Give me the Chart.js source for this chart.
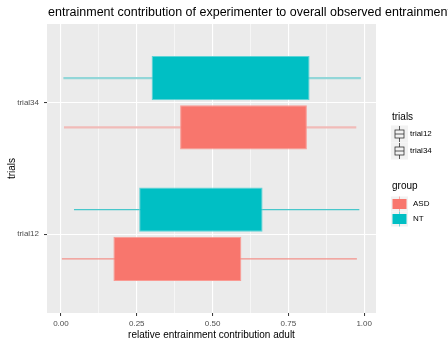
<!DOCTYPE html>
<html>
<head>
<meta charset="utf-8">
<script src="https://cdn.jsdelivr.net/npm/chart.js@4/dist/chart.umd.min.js"></script>
<style>
  html, body { margin: 0; padding: 0; background: #ffffff; }
  #wrap { position: relative; width: 448px; height: 342px; }
</style>
</head>
<body>
<div id="wrap"><canvas id="c" width="448" height="342"></canvas></div>
<script>
// Trials on the vertical axis (numeric positions used by the linear scale)
const trialLabels = ['trial12', 'trial34'];
const trialPositions = [1, 2];

// Five-number summaries per group, ordered as trialLabels
const ntMin    = [0.043, 0.008];
const ntQ1     = [0.258, 0.299];
const ntQ3     = [0.665, 0.820];
const ntMax    = [0.984, 0.989];

const asdMin   = [0.003, 0.010];
const asdQ1    = [0.173, 0.393];
const asdQ3    = [0.595, 0.811];
const asdMax   = [0.976, 0.974];

// x-axis ticks (major) and grid positions (major + minor)
const xMajorTicks = [0, 0.25, 0.5, 0.75, 1];
const xGridTicks  = [0, 0.125, 0.25, 0.375, 0.5, 0.625, 0.75, 0.875, 1];

const colNT  = '#00BFC4';
const colASD = '#F8766D';

const boxData = (lo, hi) => trialPositions.map((p, i) => ({ y: p, x: [lo[i], hi[i]] }));
const oneWhisker = (lo, hi, i) => [{ y: trialPositions[i], x: [lo[i], hi[i]] }];

const panelBg = {
  id: 'panelBg',
  beforeDraw(chart) {
    const { ctx, chartArea: a } = chart;
    ctx.save();
    ctx.fillStyle = '#ffffff';
    ctx.fillRect(0, 0, chart.width, chart.height);
    ctx.fillStyle = '#EBEBEB';
    ctx.fillRect(a.left, a.top, a.right - a.left, a.bottom - a.top);
    ctx.restore();
  }
};

const titleAndLegend = {
  id: 'titleAndLegend',
  afterDraw(chart) {
    const { ctx } = chart;
    ctx.save();
    ctx.textBaseline = 'middle';
    ctx.textAlign = 'left';
    // plot title
    ctx.fillStyle = '#000000';
    ctx.font = '12.5px "Liberation Sans", Arial, sans-serif';
    ctx.fillText('entrainment contribution of experimenter to overall observed entrainment', 48, 13);

    // legend: trials
    ctx.font = '10px "Liberation Sans", Arial, sans-serif';
    ctx.fillText('trials', 392, 117);
    const keyX = 391, keyW = 17;
    const trialRows = [134, 151];
    trialRows.forEach((cy, i) => {
      ctx.fillStyle = '#F2F2F2';
      ctx.fillRect(keyX, cy - 8.5, keyW, 17);
      ctx.strokeStyle = '#333333';
      ctx.lineWidth = 0.8;
      const cx = keyX + keyW / 2;
      ctx.beginPath();
      ctx.moveTo(cx, cy - 8); ctx.lineTo(cx, cy - 4);
      ctx.moveTo(cx, cy + 4); ctx.lineTo(cx, cy + 8);
      ctx.stroke();
      ctx.strokeRect(cx - 4.5, cy - 4, 9, 8);
      ctx.beginPath();
      ctx.moveTo(cx - 4.5, cy); ctx.lineTo(cx + 4.5, cy);
      ctx.stroke();
      ctx.fillStyle = '#000000';
      ctx.font = '8px "Liberation Sans", Arial, sans-serif';
      ctx.fillText(trialLabels[i], 410, cy);
    });

    // legend: group
    ctx.font = '10px "Liberation Sans", Arial, sans-serif';
    ctx.fillStyle = '#000000';
    ctx.fillText('group', 392, 186);
    const groups = [['ASD', colASD, 'rgba(248,118,109,0.55)'], ['NT', colNT, 'rgba(0,191,196,0.55)']];
    const groupRows = [204, 219];
    groups.forEach((g, i) => {
      const cy = groupRows[i];
      ctx.fillStyle = '#F2F2F2';
      ctx.fillRect(keyX, cy - 7.5, keyW, 15);
      const cx = keyX + keyW / 2;
      ctx.strokeStyle = g[2];
      ctx.lineWidth = 1;
      ctx.beginPath();
      ctx.moveTo(cx, cy - 7.5); ctx.lineTo(cx, cy + 7.5);
      ctx.stroke();
      ctx.fillStyle = g[1];
      ctx.fillRect(cx - 7, cy - 5, 14, 10);
      ctx.fillStyle = '#000000';
      ctx.font = '8px "Liberation Sans", Arial, sans-serif';
      ctx.fillText(g[0], 413, cy);
    });
    ctx.restore();
  }
};

new Chart(document.getElementById('c'), {
  type: 'bar',
  data: {
    datasets: [
      { label: 'NT', stack: 'NT', order: 0, data: boxData(ntQ1, ntQ3),
        backgroundColor: colNT, borderColor: '#5FD3D6', borderWidth: 1, borderSkipped: false },
      { label: 'ASD', stack: 'ASD', order: 0, data: boxData(asdQ1, asdQ3),
        backgroundColor: colASD, borderColor: '#FA9A93', borderWidth: 1, borderSkipped: false },
      // whiskers, drawn underneath the boxes
      { label: 'NT trial12', stack: 'NT', order: 1, data: oneWhisker(ntMin, ntMax, 0),
        backgroundColor: '#48C7CB', maxBarThickness: 1.3 },
      { label: 'NT trial34', stack: 'NT', order: 1, data: oneWhisker(ntMin, ntMax, 1),
        backgroundColor: '#92D6D8', maxBarThickness: 2.2 },
      { label: 'ASD trial12', stack: 'ASD', order: 1, data: oneWhisker(asdMin, asdMax, 0),
        backgroundColor: '#F3918A', maxBarThickness: 1.3 },
      { label: 'ASD trial34', stack: 'ASD', order: 1, data: oneWhisker(asdMin, asdMax, 1),
        backgroundColor: '#F1BBB8', maxBarThickness: 2.2 }
    ]
  },
  options: {
    indexAxis: 'y',
    responsive: false,
    animation: false,
    categoryPercentage: 0.75,
    barPercentage: 0.9,
    layout: { padding: { left: 0, right: 72, top: 24, bottom: 0 } },
    plugins: { legend: { display: false }, tooltip: { enabled: false }, title: { display: false } },
    scales: {
      y: {
        type: 'linear',
        min: 0.4, max: 2.6,
        offset: false,
        afterBuildTicks: (s) => { s.ticks = trialPositions.map(v => ({ value: v })); },
        afterFit: (s) => { s.width = 47; },
        ticks: {
          color: '#4D4D4D',
          font: { size: 8, family: '"Liberation Sans", Arial, sans-serif' },
          padding: 5,
          callback: (v) => trialLabels[trialPositions.indexOf(v)]
        },
        grid: { color: '#ffffff', lineWidth: 1.1, offset: false, drawTicks: true,
                tickColor: '#333333', tickLength: 3, tickWidth: 1 },
        border: { display: false },
        title: { display: true, text: 'trials', color: '#000000', padding: { top: 6, bottom: 0 },
                 font: { size: 10, family: '"Liberation Sans", Arial, sans-serif' } }
      },
      x: {
        type: 'linear',
        stacked: false,
        min: -0.046, max: 1.039,
        offset: false,
        afterBuildTicks: (s) => { s.ticks = xGridTicks.map(v => ({ value: v })); },
        afterFit: (s) => { s.height = 29; },
        ticks: {
          color: '#4D4D4D',
          autoSkip: false,
          maxRotation: 0,
          font: { size: 8, family: '"Liberation Sans", Arial, sans-serif' },
          padding: 3,
          callback: (v) => xMajorTicks.includes(v) ? v.toFixed(2) : ''
        },
        grid: {
          color: '#ffffff',
          lineWidth: (c) => (c.tick && xMajorTicks.includes(c.tick.value)) ? 1.1 : 0.55,
          offset: false,
          drawTicks: true,
          tickLength: 3,
          tickWidth: 1,
          tickColor: (c) => (c.tick && xMajorTicks.includes(c.tick.value)) ? '#333333' : 'rgba(0,0,0,0)'
        },
        border: { display: false },
        title: { display: true, text: 'relative entrainment contribution adult', color: '#000000',
                 padding: { top: 0, bottom: 1 },
                 font: { size: 10, family: '"Liberation Sans", Arial, sans-serif' } }
      }
    }
  },
  plugins: [panelBg, titleAndLegend]
});
</script>
</body>
</html>
